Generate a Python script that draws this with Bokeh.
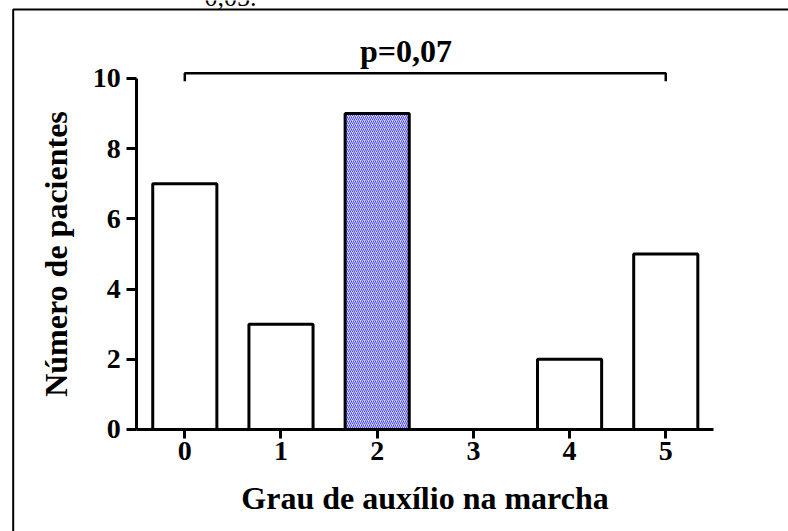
from bokeh.plotting import figure
from bokeh.models import Range1d, FixedTicker, Label, ColumnDataSource
from bokeh.embed import file_html
from bokeh.resources import INLINE

# ---- data ----
categories = [0, 1, 2, 3, 4, 5]
counts = [7, 3, 9, 0, 2, 5]
highlighted = [2]
y_ticks = [0, 2, 4, 6, 8, 10]
x_label = "Grau de auxílio na marcha"
y_label = "Número de pacientes"
p_text = "p=0,07"
bracket_from, bracket_to = 0, 5
header_fragment = "0,05."

FONT = "Liberation Serif"

p = figure(width=788, height=531, output_backend="svg", toolbar_location=None,
           x_range=Range1d(-1.916, 6.276), y_range=Range1d(-2.906, 12.222),
           min_border_left=0, min_border_right=0, min_border_top=0, min_border_bottom=0)
p.outline_line_color = None
p.grid.visible = False
p.background_fill_color = "white"
p.border_fill_color = "white"

plain = [c for c in categories if c not in highlighted]
src_plain = ColumnDataSource(dict(x=plain, top=[counts[categories.index(c)] for c in plain]))
src_hi = ColumnDataSource(dict(x=highlighted, top=[counts[categories.index(c)] for c in highlighted]))

p.vbar(x="x", top="top", bottom=0, width=2/3, source=src_plain,
       fill_color="white", line_color="black", line_width=3)
p.vbar(x="x", top="top", bottom=0, width=2/3, source=src_hi,
       fill_color="#d4d4fb", hatch_pattern="/", hatch_color="#4a4ae2",
       hatch_scale=4, hatch_weight=1, line_color="black", line_width=3)

# axes
xa = p.xaxis[0]
ya = p.yaxis[0]
xa.fixed_location = 0
ya.fixed_location = -0.5
xa.bounds = (-0.5, 5.5)
ya.bounds = (0, 10)
xa.ticker = FixedTicker(ticks=categories)
ya.ticker = FixedTicker(ticks=y_ticks)
for ax in (xa, ya):
    ax.axis_line_width = 3
    ax.axis_line_color = "black"
    ax.major_tick_line_width = 3
    ax.major_tick_in = 0
    ax.minor_tick_line_color = None
    ax.major_label_text_font = FONT
    ax.major_label_text_font_style = "bold"
    ax.major_label_text_font_size = "28px"
    ax.major_label_text_color = "black"
    ax.axis_label_text_font = FONT
    ax.axis_label_text_font_style = "bold"
    ax.axis_label_text_font_size = "32px"
    ax.axis_label_text_color = "black"
xa.major_tick_out = 9
xa.major_label_standoff = 4
xa.axis_label = x_label
xa.axis_label_standoff = 16
ya.major_tick_out = 10
ya.major_label_standoff = 6
ya.axis_label = y_label
ya.axis_label_standoff = 16

# significance bracket
lvl = 10.15
drop = 0.23
p.line(x=[bracket_from, bracket_from, bracket_to, bracket_to],
       y=[lvl - drop, lvl, lvl, lvl - drop], line_color="black", line_width=2.5)
p.add_layout(Label(x=(bracket_from + bracket_to) / 2 - 0.2, y=10.77, text=p_text,
                   text_font=FONT, text_font_style="bold", text_font_size="32px",
                   text_align="center", text_baseline="alphabetic", text_color="black"))

# page frame (document box) and clipped text fragment
p.line(x=[-1.784, -1.784, 6.5], y=[-3.5, 11.966, 11.966], line_color="black", line_width=2)
p.add_layout(Label(x=0.205, y=12.3, text=header_fragment, text_font=FONT,
                   text_font_size="26px", text_align="left", text_baseline="alphabetic",
                   text_color="black"))

open("out.html", "w").write(file_html(p, INLINE))
